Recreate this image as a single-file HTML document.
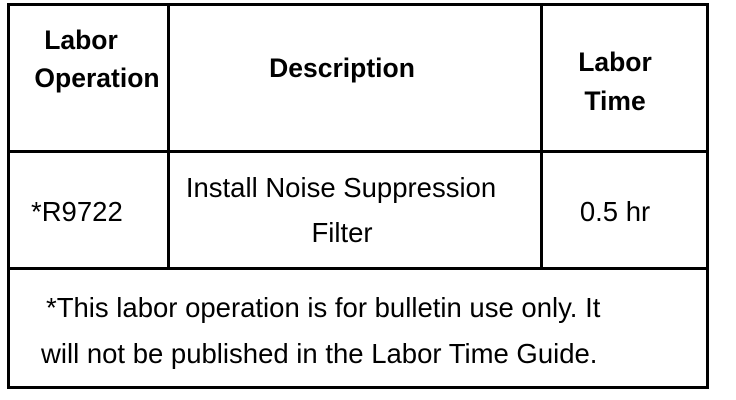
<!DOCTYPE html>
<html><head><style>
body{margin:0;width:736px;height:400px;background:#fff;position:relative;overflow:hidden;font-family:"Liberation Sans",Arial,sans-serif;color:#000}
.l{position:absolute;background:#000}
.t{position:absolute;font-size:27.5px;line-height:30px;white-space:nowrap;transform:translateY(-50%)}
.b{font-weight:bold;font-size:26.5px}
.c{transform:translate(-50%,-50%)}
</style></head><body>
<div class="l" style="left:7px;top:3px;width:702px;height:3px"></div>
<div class="l" style="left:7px;top:150px;width:702px;height:3px"></div>
<div class="l" style="left:7px;top:267px;width:702px;height:3px"></div>
<div class="l" style="left:7px;top:386px;width:702px;height:3px"></div>
<div class="l" style="left:7px;top:3px;width:3px;height:386px"></div>
<div class="l" style="left:706px;top:3px;width:3px;height:386px"></div>
<div class="l" style="left:167px;top:3px;width:3px;height:267px"></div>
<div class="l" style="left:540px;top:3px;width:3px;height:267px"></div>

<div class="t b c" style="left:81px;top:40px">Labor</div>
<div class="t b c" style="left:97px;top:78px">Operation</div>
<div class="t b c" style="left:342px;top:68px">Description</div>
<div class="t b c" style="left:615px;top:62px">Labor</div>
<div class="t b c" style="left:615px;top:101px">Time</div>

<div class="t" style="left:31px;top:212px">*R9722</div>
<div class="t c" style="left:341px;top:188px">Install Noise Suppression</div>
<div class="t c" style="left:342px;top:233px">Filter</div>
<div class="t c" style="left:615px;top:212px">0.5 hr</div>

<div class="t" style="left:46px;top:308px">*This labor operation is for bulletin use only. It</div>
<div class="t" style="left:41px;top:354px">will not be published in the Labor Time Guide.</div>
</body></html>
